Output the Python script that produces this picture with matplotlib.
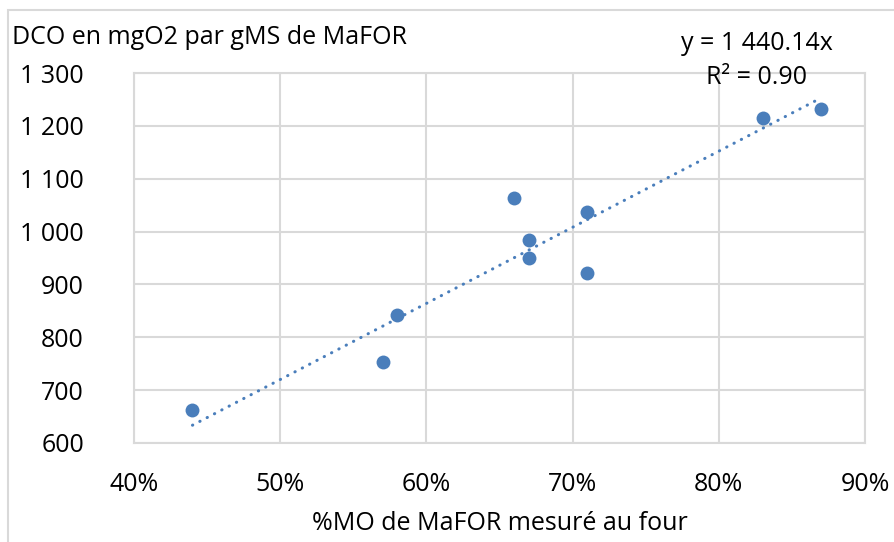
import numpy as np
import matplotlib
matplotlib.use('Agg')
import matplotlib.pyplot as plt
from matplotlib.patches import Rectangle
from matplotlib.ticker import FuncFormatter

# data
mo_pct = [0.44, 0.57, 0.58, 0.66, 0.67, 0.67, 0.71, 0.71, 0.83, 0.87]
dco = [662, 753, 843, 1063, 984, 950, 1037, 921, 1215, 1232]
trend_slope = 1440.14
r2_txt = '0.90'
x_ticks = [0.4, 0.5, 0.6, 0.7, 0.8, 0.9]
y_ticks = [600, 700, 800, 900, 1000, 1100, 1200, 1300]

blue = '#4a7ebb'
grid_col = '#d9d9d9'
fnt = 'Open Sans'
fs = 18

W, H = 894, 542
fig = plt.figure(figsize=(W/100, H/100), dpi=100)
fig.patch.set_facecolor('white')

# chart frame (Excel like light border)
fig.patches.append(Rectangle((8/W, -0.05), 1.2, (H-10)/H+0.05, transform=fig.transFigure,
                             fill=False, edgecolor=grid_col, linewidth=1.5))

ax = fig.add_axes([134/W, (H-443)/H, 731/W, 370/H])
ax.set_xlim(0.4, 0.9)
ax.set_ylim(600, 1300)
ax.set_xticks(x_ticks)
ax.set_yticks(y_ticks)
ax.xaxis.set_major_formatter(FuncFormatter(lambda v, p: '%d%%' % round(v*100)))
ax.yaxis.set_major_formatter(FuncFormatter(lambda v, p: '{:,}'.format(int(round(v))).replace(',', ' ')))
ax.grid(True, color=grid_col, linewidth=1.5)
ax.set_axisbelow(True)
for s in ax.spines.values():
    s.set_color(grid_col)
    s.set_linewidth(1.5)
ax.tick_params(length=0, labelsize=fs, colors='#000000')
ax.tick_params(axis='y', pad=36)
ax.tick_params(axis='x', pad=21)
for lab in ax.get_xticklabels() + ax.get_yticklabels():
    lab.set_family(fnt)

ax.scatter(mo_pct, dco, s=100, color=blue, zorder=3, linewidths=0)

xt = np.array([min(mo_pct), max(mo_pct)])
ax.plot(xt, trend_slope*xt, color=blue, linewidth=2.2, linestyle=(0, (0.1, 2.6)),
        dash_capstyle='round', zorder=2)

fig.text(12/W, 1-37/H, 'DCO en mgO2 par gMS de MaFOR', fontsize=fs, family=fnt,
         ha='left', va='center')
fig.text(757/W, 1-44/H, 'y = 1 440.14x', fontsize=fs, family=fnt, ha='center', va='center')
fig.text(757/W, 1-78/H, 'R² = ' + r2_txt, fontsize=fs, family=fnt, ha='center', va='center')
ax.set_xlabel('%MO de MaFOR mesuré au four', fontsize=fs, family=fnt, labelpad=10)

fig.savefig('out.png', dpi=100)
